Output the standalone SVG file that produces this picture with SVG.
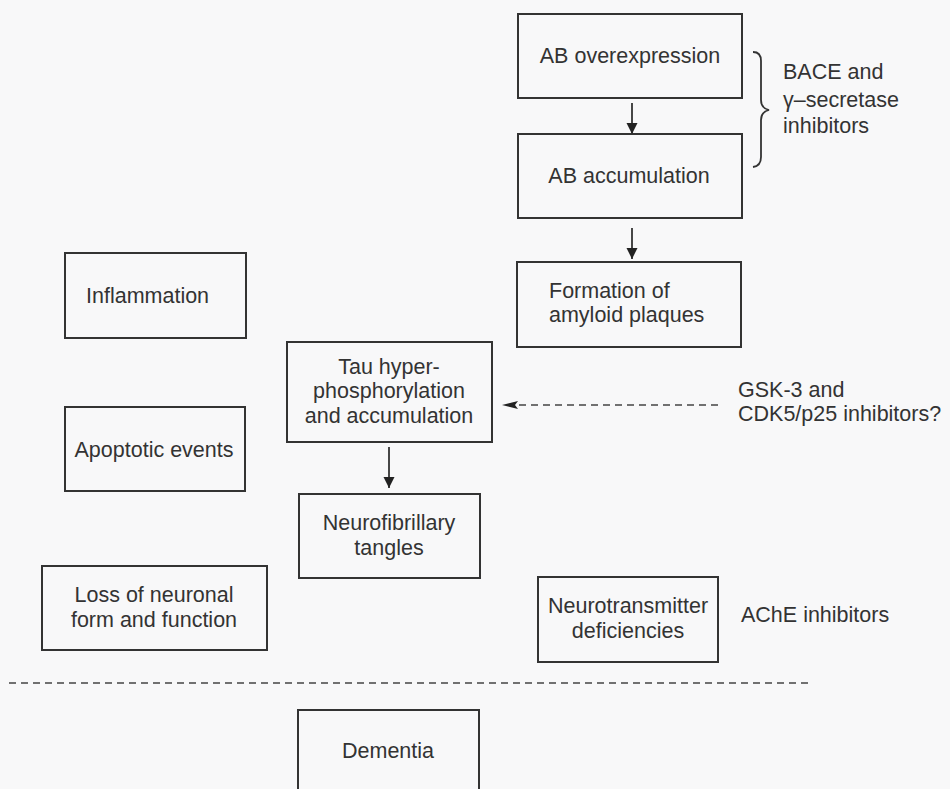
<svg xmlns="http://www.w3.org/2000/svg" width="950" height="789" viewBox="0 0 950 789">
  <style>
    .box { fill: none; stroke: #333; stroke-width: 2; }
    .t { font-family: "Liberation Sans", Arial, sans-serif; font-size: 21.5px; fill: #333; }
    .c { text-anchor: middle; }
    .line { stroke: #333; stroke-width: 1.8; fill: none; }
    .dash { stroke: #444; stroke-width: 1.5; stroke-dasharray: 7 5; fill: none; }
  </style>
  <defs>
    <marker id="ah" viewBox="0 0 11 14" refX="11" refY="7" markerWidth="11" markerHeight="14" markerUnits="userSpaceOnUse" orient="auto">
      <path d="M0,1.5 L11,7 L0,12.5 Z" fill="#222"/>
    </marker>
    <marker id="ah2" viewBox="0 0 16 10" refX="16" refY="5" markerWidth="16" markerHeight="10" markerUnits="userSpaceOnUse" orient="auto">
      <path d="M0,1 L16,5 L0,9 L3,5 Z" fill="#222"/>
    </marker>
  </defs>
  <rect width="950" height="789" fill="#f8f8f9"/>

  <g id="ab-overexpression">
    <rect class="box" x="518" y="14" width="224" height="84"/>
    <text class="t c" x="630" y="63">AB overexpression</text>
  </g>
  <g id="ab-accumulation">
    <rect class="box" x="518" y="134" width="224" height="84"/>
    <text class="t c" x="629" y="183">AB accumulation</text>
  </g>
  <g id="formation">
    <rect class="box" x="517" y="262" width="224" height="85"/>
    <text class="t" x="549" y="298">Formation of</text>
    <text class="t" x="549" y="322">amyloid plaques</text>
  </g>
  <g id="inflammation">
    <rect class="box" x="65" y="253" width="181" height="85"/>
    <text class="t" x="86" y="303">Inflammation</text>
  </g>
  <g id="apoptotic">
    <rect class="box" x="65" y="407" width="180" height="84"/>
    <text class="t c" x="154" y="457">Apoptotic events</text>
  </g>
  <g id="tau">
    <rect class="box" x="287" y="342" width="205" height="100"/>
    <text class="t c" x="389" y="374">Tau hyper-</text>
    <text class="t c" x="389" y="398">phosphorylation</text>
    <text class="t c" x="389" y="423">and accumulation</text>
  </g>
  <g id="neurofibrillary">
    <rect class="box" x="299" y="494" width="181" height="84"/>
    <text class="t c" x="389" y="530">Neurofibrillary</text>
    <text class="t c" x="389" y="555">tangles</text>
  </g>
  <g id="loss">
    <rect class="box" x="42" y="566" width="225" height="84"/>
    <text class="t c" x="154" y="602">Loss of neuronal</text>
    <text class="t c" x="154" y="627">form and function</text>
  </g>
  <g id="neurotransmitter">
    <rect class="box" x="538" y="577" width="180" height="85"/>
    <text class="t c" x="628" y="613">Neurotransmitter</text>
    <text class="t c" x="628" y="638">deficiencies</text>
  </g>
  <g id="dementia">
    <path class="box" d="M298,795 L298,710 L479,710 L479,795"/>
    <text class="t c" x="388" y="758">Dementia</text>
  </g>

  <g id="bace-label">
    <path class="line" stroke-width="1.5" d="M753,52 Q761,52 761,61 L761,100 Q761,108 769,110 Q761,112 761,120 L761,157 Q761,166 753,167"/>
    <text class="t" x="783" y="79">BACE and</text>
    <text class="t" x="783" y="107">γ–secretase</text>
    <text class="t" x="783" y="133">inhibitors</text>
  </g>
  <g id="gsk-label">
    <text class="t" x="738" y="397">GSK-3 and</text>
    <text class="t" x="738" y="421">CDK5/p25 inhibitors?</text>
  </g>
  <g id="ache-label">
    <text class="t" x="741" y="622">AChE inhibitors</text>
  </g>

  <g id="connectors">
    <line class="line" x1="632" y1="103" x2="632" y2="134" marker-end="url(#ah)"/>
    <line class="line" x1="632" y1="228" x2="632" y2="259" marker-end="url(#ah)"/>
    <line class="line" x1="389" y1="447" x2="389" y2="488" marker-end="url(#ah)"/>
    <line class="dash" x1="718" y1="405" x2="502" y2="405" marker-end="url(#ah2)"/>
    <line class="dash" x1="9" y1="683" x2="809" y2="683"/>
  </g>
</svg>
